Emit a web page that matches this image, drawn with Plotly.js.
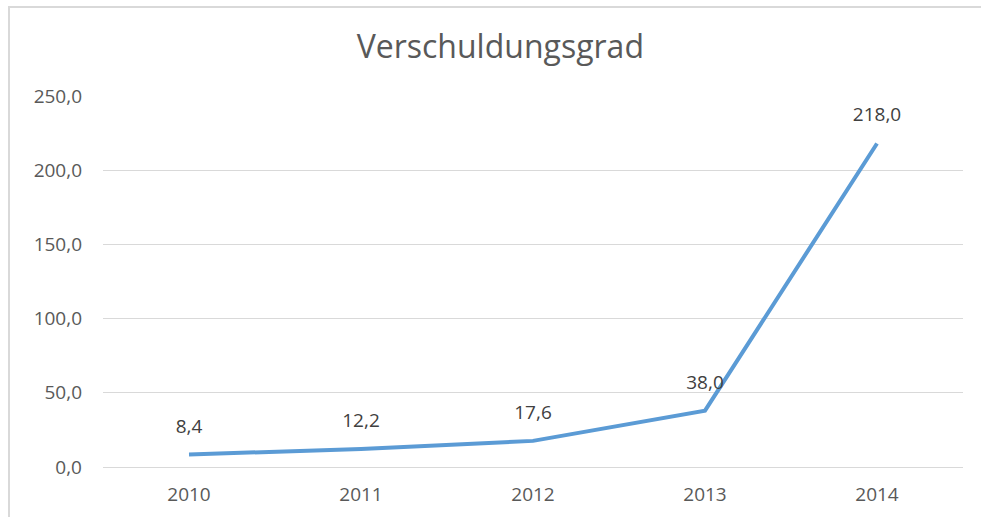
<!DOCTYPE html>
<html>
<head>
<meta charset="utf-8">
<script src="https://cdn.plot.ly/plotly-3.0.1.min.js"></script>
<style>
  html, body { margin: 0; padding: 0; background: #fff; }
  #wrap { position: relative; width: 981px; height: 517px; }
  #chart { width: 981px; height: 517px; }
  #frame { position: absolute; left: 8px; top: 6px; width: 990px; height: 530px;
           border-left: 2px solid #d9d9d9; border-top: 2px solid #d9d9d9; pointer-events: none; }
</style>
</head>
<body>
<div id="wrap">
  <div id="chart"></div>
  <div id="frame"></div>
</div>
<script>
const years = ['2010', '2011', '2012', '2013', '2014'];
const verschuldungsgrad = [8.4, 12.2, 17.6, 38.0, 218.0];
const yTicks = [0, 50, 100, 150, 200, 250];
const chartTitle = 'Verschuldungsgrad';

const trace = {
  x: years,
  y: verschuldungsgrad,
  type: 'scatter',
  mode: 'lines+markers+text',
  line: { color: '#5B9BD5', width: 4 },
  marker: { size: 26, color: 'rgba(0,0,0,0)' },
  texttemplate: '%{y:.1f}',
  textposition: 'top center',
  textfont: { family: 'Open Sans, sans-serif', size: 19, color: '#404040' },
  hoverinfo: 'skip',
  cliponaxis: false
};

const layout = {
  width: 981,
  height: 517,
  margin: { l: 103, r: 18, t: 96, b: 50 },
  paper_bgcolor: '#ffffff',
  plot_bgcolor: '#ffffff',
  separators: ',.',
  showlegend: false,
  title: {
    text: chartTitle,
    font: { family: 'Open Sans, sans-serif', size: 32, color: '#595959' },
    x: 0.51, xanchor: 'center',
    y: 0.91, yanchor: 'middle'
  },
  xaxis: {
    type: 'category',
    range: [-0.5, 4.5],
    autorange: false,
    showgrid: false,
    showline: false,
    zeroline: false,
    ticks: '',
    tickfont: { family: 'Open Sans, sans-serif', size: 19, color: '#595959' },
    ticklabelstandoff: 14
  },
  yaxis: {
    range: [0, 250],
    autorange: false,
    tickvals: yTicks,
    tickformat: '.1f',
    showgrid: true,
    gridcolor: '#d9d9d9',
    gridwidth: 1,
    zeroline: true,
    zerolinecolor: '#d9d9d9',
    zerolinewidth: 1,
    showline: false,
    ticks: '',
    tickfont: { family: 'Open Sans, sans-serif', size: 19, color: '#595959' },
    ticklabelstandoff: 20
  }
};

Plotly.newPlot('chart', [trace], layout, { staticPlot: true, displayModeBar: false });
</script>
</body>
</html>
